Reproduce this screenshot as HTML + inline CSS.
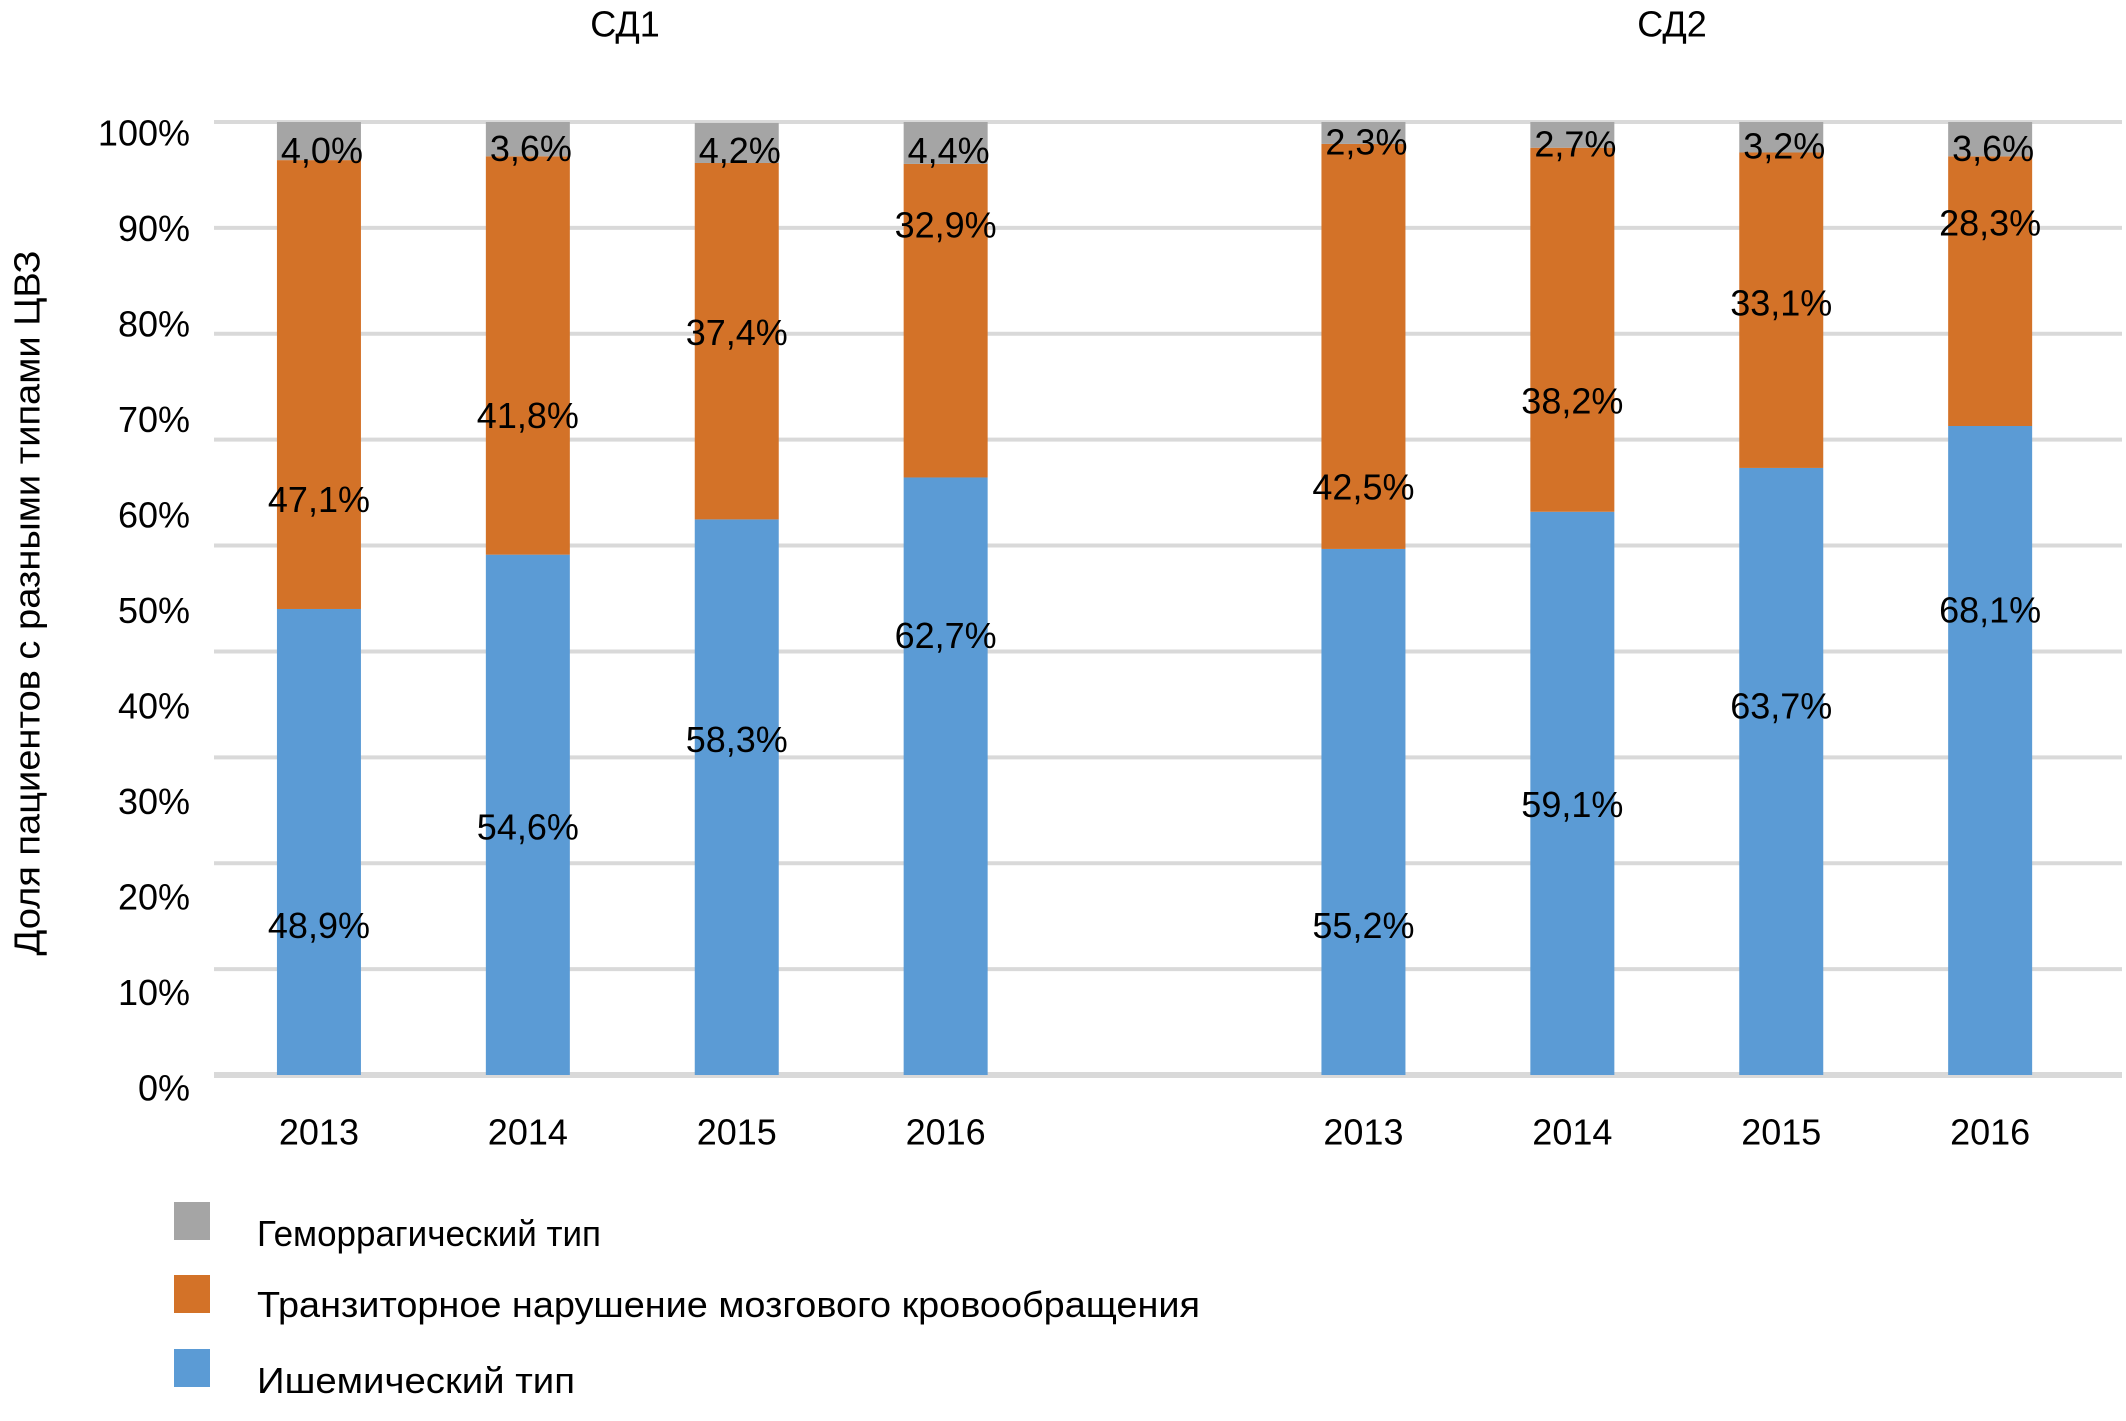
<!DOCTYPE html>
<html><head><meta charset="utf-8">
<style>
html,body{margin:0;padding:0;background:#fff;}
svg{display:block;font-family:"Liberation Sans","Noto Sans CJK SC",sans-serif;}
</style></head>
<body>
<svg id="chart" width="2126" height="1421" viewBox="0 0 2126 1421" xmlns="http://www.w3.org/2000/svg">
<g id="grid"></g>
<g id="yticks"></g>
<g id="bars"></g>
<g id="labels"></g>
<g id="xlabels"></g>
<text x="625" y="24" font-size="36" text-anchor="middle" dominant-baseline="central">СД1</text>
<text x="1672" y="24" font-size="36" text-anchor="middle" dominant-baseline="central">СД2</text>
<text transform="translate(27,603) rotate(-90)" font-size="36" text-anchor="middle" dominant-baseline="central" textLength="705" lengthAdjust="spacingAndGlyphs">Доля пациентов с разными типами ЦВЗ</text>
<g>
 <g>
  <rect x="174" y="1202" width="36" height="38" fill="#a5a5a5"/>
  <text x="257" y="1246" font-size="36" textLength="344" lengthAdjust="spacingAndGlyphs">Геморрагический тип</text>
 </g>
 <g>
  <rect x="174" y="1275" width="36" height="38" fill="#d37228"/>
  <text x="257" y="1317" font-size="36" textLength="943" lengthAdjust="spacingAndGlyphs">Транзиторное нарушение мозгового кровообращения</text>
 </g>
 <g>
  <rect x="174" y="1349" width="36" height="38" fill="#5b9bd5"/>
  <text x="257" y="1393" font-size="36" textLength="318" lengthAdjust="spacingAndGlyphs">Ишемический тип</text>
 </g>
</g>
</svg>
<script>
const categories = ["2013","2014","2015","2016","","2013","2014","2015","2016"];
const ischemic = [48.9, 54.6, 58.3, 62.7, null, 55.2, 59.1, 63.7, 68.1];
const tia = [47.1, 41.8, 37.4, 32.9, null, 42.5, 38.2, 33.1, 28.3];
const hemorrhagic = [4.0, 3.6, 4.2, 4.4, null, 2.3, 2.7, 3.2, 3.6];
const yTickLabels = ["0%","10%","20%","30%","40%","50%","60%","70%","80%","90%","100%"];
// label anchor positions (axis units)
const ischemicLabelPos = [15.7, 26.0, 35.2, 46.1, null, 15.7, 28.4, 38.7, 48.8];
const tiaLabelPos = [60.4, 69.2, 77.9, 89.2, null, 61.7, 70.7, 81.0, 89.4];
const hemLabelPos = [97.0, 97.2, 97.0, 97.0, null, 97.9, 97.7, 97.5, 97.2];

const NS = "http://www.w3.org/2000/svg";
const y0 = 1075, y100 = 122;
const yScale = v => y0 - (y0 - y100) * v / 100;
const slotW = 208.9, left = 214.5, barW = 84;
const xCenter = i => left + slotW * (i + 0.5);
function mk(tag, attrs, parent) { const e = document.createElementNS(NS, tag); for (const k in attrs) e.setAttribute(k, attrs[k]); parent.appendChild(e); return e; }

const grid = document.getElementById('grid');
for (let k = 0; k < 10; k++) {
  const y = y100 + k * (y0 - y100) / 9;
  const l = mk('line', {x1: 214, x2: 2122, y1: y, y2: y, stroke: '#d9d9d9', 'stroke-width': k === 9 ? 6 : 4}, grid);
  
  
}
const yt = document.getElementById('yticks');
yTickLabels.forEach((t, i) => {
  const e = mk('text', {x: 190, y: 1088 - i * 95.5, 'font-size': 36, 'text-anchor': 'end', 'dominant-baseline': 'central'}, yt);
  e.textContent = t;
  
  
});
const bars = document.getElementById('bars'), labels = document.getElementById('labels'), xl = document.getElementById('xlabels');
const series = [
  {vals: ischemic, pos: ischemicLabelPos, color: '#5b9bd5', name: 'ischemic'},
  {vals: tia, pos: tiaLabelPos, color: '#d37228', name: 'tia'},
  {vals: hemorrhagic, pos: hemLabelPos, color: '#a5a5a5', name: 'hemorrhagic'}
];
categories.forEach((c, i) => {
  if (ischemic[i] === null) return;
  const cx = xCenter(i);
  let base = 0;
  series.forEach(s => {
    const v = s.vals[i];
    const yTop = yScale(base + v), yBot = yScale(base);
    const r = mk('rect', {x: cx - barW / 2, y: yTop, width: barW, height: yBot - yTop, fill: s.color}, bars);
    
    
    base += v;
  });
  series.forEach(s => {
    const t = mk('text', {x: cx + (s.name === 'hemorrhagic' ? 3 : 0), y: yScale(s.pos[i]), 'font-size': 36, 'text-anchor': 'middle', 'dominant-baseline': 'central'}, labels);
    t.textContent = s.vals[i].toFixed(1).replace('.', ',') + '%';
    
    
  });
  const x = mk('text', {x: cx, y: 1132, 'font-size': 36, 'text-anchor': 'middle', 'dominant-baseline': 'central'}, xl);
  x.textContent = c;
  
  
});
</script>
</body></html>
